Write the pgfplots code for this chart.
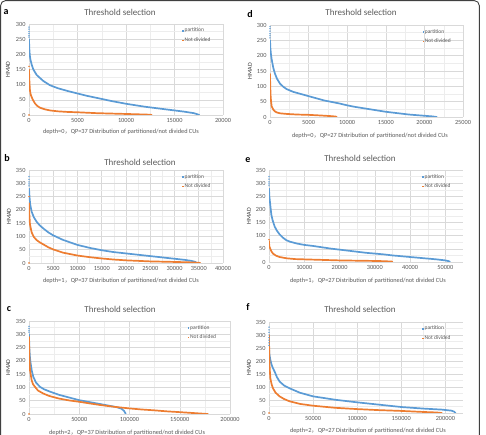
\documentclass[border=0pt]{standalone}
\usepackage{pgfplots}
\pgfplotsset{compat=1.18}
\usepackage{fontspec}
\setmainfont{Carlito}
\newfontfamily\cjk{Noto Sans CJK SC}
\definecolor{pblue}{HTML}{5B9BD5}
\definecolor{porange}{HTML}{ED7D31}
\definecolor{tickc}{HTML}{595959}
\definecolor{titlec}{HTML}{595959}
\definecolor{gridc}{HTML}{D9D9D9}
\definecolor{gridm}{HTML}{EDEDED}
\pgfplotsset{
  every axis title shift=0pt,
  panel/.style={
    scale only axis, anchor=south west, xmin=0, ymin=0,
    axis line style={draw=none}, tick style={draw=none},
    grid=both, minor tick num=1,
    major grid style={draw=gridc, line width=0.5pt},
    minor grid style={draw=gridm, line width=0.35pt},
    ticklabel style={font=\fontsize{6.3}{7}\selectfont, text=tickc},
    /pgf/number format/fixed,
    /pgf/number format/assume math mode=true,
    /pgf/number format/1000 sep={},
    scaled ticks=false,
    title={Threshold selection},
    title style={font=\fontsize{9}{10}\selectfont, text=titlec, anchor=center},
    xlabel style={font=\fontsize{6.3}{7}\selectfont, text=tickc, anchor=center},
    ylabel={HMAD},
    ylabel style={font=\fontsize{6}{7}\selectfont, text=black!80, anchor=center},
    legend style={at={(0.79,0.965)}, anchor=north west, draw=none, fill=none,
      font=\fontsize{5.5}{6}\selectfont, text=tickc, row sep=2.5pt,
      inner sep=0pt, nodes={inner sep=0.8pt}},
    legend cell align=left,
    legend image code/.code={\fill[##1] (0pt,-0.7pt) rectangle (1.4pt,0.7pt);},
  },
  bl/.style={pblue, line width=1.7pt, line join=round, line cap=round},
  ol/.style={porange, line width=1.7pt, line join=round, line cap=round},
  bo/.style={only marks, mark=*, mark size=0.45pt, pblue, mark options={draw=pblue, fill=pblue}},
  oo/.style={only marks, mark=*, mark size=0.5pt, porange, mark options={draw=porange, fill=porange}},
}
\newcommand{\legs}{%
  \addlegendimage{fill=pblue,draw=none}\addlegendentry{partition}
  \addlegendimage{fill=porange,draw=none}\addlegendentry{Not divided}}
\begin{document}
\begin{tikzpicture}[x=1pt,y=1pt]
\useasboundingbox (0,0) rectangle (486,435);
\draw[black!75, line width=0.9pt, rounded corners=5pt] (0.6,-2) -- (0.6,434.4) -- (479.3,434.4) -- (479.3,-2);

% ---------- panel a
\begin{axis}[panel, at={(29pt,320pt)}, width=194pt, height=91pt,
  xmax=20000, ymax=300, xtick={0,5000,...,20000}, ytick={0,50,...,300},
  title style={at={(axis description cs:0.469,1.132)}},
  xlabel={depth=0{\cjk ，}QP=37 Distribution of partitioned/not divided CUs},
  xlabel style={at={(axis description cs:0.474,-0.187)}},
  ylabel style={at={(axis description cs:-0.108,0.5)}}]
\legs
\addplot[bl, forget plot] coordinates {(0,250) (30,220) (80,198) (150,182) (275,166) (450,150) (790,132) (1130,122) (1480,112) (2170,98) (3000,88) (4000,79) (5000,71) (6000,63) (7340,54) (8500,46) (9340,41) (10000,37) (11000,32) (12000,27) (13000,23) (14000,19) (15000,15) (16000,11) (17000,6) (17400,2) (17550,0)};
\addplot[bo, forget plot] coordinates {(0,290) (0,283) (0,275) (0,268) (0,262) (0,257)};
\addplot[ol, forget plot] coordinates {(0,150) (20,130) (50,105) (100,80) (180,67) (275,59) (400,50) (620,38) (850,30) (1140,24) (1600,19) (2170,15) (3000,12) (4000,10) (5000,9) (7000,6) (9340,4) (11000,2.5) (12500,1) (12650,0)};
\addplot[oo, forget plot] coordinates {(0,160) (0,0)};
\end{axis}
\node[font=\bfseries\fontsize{10}{11}\selectfont, anchor=center] at (6,423) {a};

% ---------- panel d
\begin{axis}[panel, at={(270pt,318pt)}, width=193pt, height=92pt,
  xmax=25000, ymax=300, xtick={0,5000,...,25000}, ytick={0,50,...,300},
  title style={at={(axis description cs:0.472,1.141)}},
  xlabel={depth=0{\cjk ，}QP=27 Distribution of partitioned/not divided CUs},
  xlabel style={at={(axis description cs:0.518,-0.207)}},
  ylabel style={at={(axis description cs:-0.104,0.5)}}]
\legs
\addplot[bl, forget plot] coordinates {(0,250) (50,225) (120,205) (215,188) (430,160) (645,141) (900,125) (1290,109) (1700,99) (2150,91) (3000,82) (4000,75) (5000,68) (6000,61) (7000,54) (8000,49) (9000,44) (10000,38) (11000,33) (12000,29) (13000,25) (14000,21) (15000,17) (16000,14) (17000,11) (18000,8) (19000,6) (20000,4) (21000,2) (21600,0)};
\addplot[bo, forget plot] coordinates {(0,295) (0,288) (0,280) (0,272) (0,265) (0,258)};
\addplot[ol, forget plot] coordinates {(0,140) (15,120) (40,95) (80,70) (130,52) (215,35) (430,24) (645,18) (860,15) (1300,12) (2150,10) (3500,8) (5000,7) (6500,5) (7800,3) (8500,1.5) (8650,0)};
\end{axis}
\node[font=\bfseries\fontsize{10}{11}\selectfont, anchor=center] at (250,421) {d};

% ---------- panel b
\begin{axis}[panel, at={(29pt,172pt)}, width=194pt, height=93pt,
  xmax=40000, ymax=350, xtick={0,5000,...,40000}, ytick={0,50,...,350},
  title style={at={(axis description cs:0.572,1.086)}},
  xlabel={depth=1{\cjk ，}QP=37 Distribution of partitioned/not divided CUs},
  xlabel style={at={(axis description cs:0.474,-0.194)}},
  ylabel style={at={(axis description cs:-0.103,0.5)}}]
\legs
\addplot[bl, forget plot] coordinates {(0,280) (100,250) (250,220) (550,193) (1000,172) (1580,155) (2200,142) (2950,130) (4000,115) (5000,104) (7000,87) (10000,68) (12500,57) (15000,48) (17500,41) (20000,36) (22500,31) (25000,26) (27500,21) (30000,16) (32000,12) (33500,8) (34300,4) (34600,0)};
\addplot[bo, forget plot] coordinates {(0,325) (0,315) (0,305) (0,298) (0,290)};
\addplot[ol, forget plot] coordinates {(0,225) (50,190) (200,145) (550,115) (1000,98) (1580,86) (2200,78) (2950,70) (4000,59) (5000,51) (7000,39) (10000,28) (12500,22) (15000,17) (17500,13) (20000,10) (25000,6) (30000,4) (33000,2.5) (35000,1) (35300,0)};
\addplot[oo, forget plot] coordinates {(0,250) (0,0)};
\end{axis}
\node[font=\bfseries\fontsize{10}{11}\selectfont, anchor=center] at (7,277) {b};

% ---------- panel e
\begin{axis}[panel, at={(269pt,173pt)}, width=194pt, height=92pt,
  xmax=55000, ymax=350, xtick={0,10000,...,50000}, ytick={0,50,...,350},
  title style={at={(axis description cs:0.469,1.13)}},
  xlabel={depth=1{\cjk ，}QP=27 Distribution of partitioned/not divided CUs},
  xlabel style={at={(axis description cs:0.51,-0.207)}},
  ylabel style={at={(axis description cs:-0.103,0.5)}}]
\legs
\addplot[bl, forget plot] coordinates {(0,280) (100,250) (375,215) (660,180) (1000,160) (1600,135) (2200,120) (3000,105) (4000,92) (4900,83) (6000,77) (8000,70) (10000,65) (12500,61) (15000,56) (17500,51) (20000,47) (22500,43) (25000,39) (27500,35) (30000,32) (32500,29) (35000,25) (37500,22) (40000,19) (42500,16) (45000,13) (47500,10) (50000,6) (51000,3) (51300,0)};
\addplot[bo, forget plot] coordinates {(0,325) (0,315) (0,305) (0,297) (0,290)};
\addplot[ol, forget plot] coordinates {(0,80) (50,65) (150,57) (375,50) (700,40) (1130,32) (2000,24) (3000,19) (5000,14) (7500,11) (10000,10) (12500,9) (15000,8) (20000,6) (25000,5) (30000,4) (33000,3) (34800,1.5) (35000,0)};
\addplot[oo, forget plot] coordinates {(0,85)};
\end{axis}
\node[font=\bfseries\fontsize{10}{11}\selectfont, anchor=center] at (248,275) {e};

% ---------- panel c
\begin{axis}[panel, at={(29pt,21pt)}, width=201pt, height=93pt,
  xmax=200000, ymax=350, xtick={0,50000,...,200000}, ytick={0,50,...,350},
  title style={at={(axis description cs:0.453,1.129)}},
  xlabel={depth=2{\cjk ，}QP=37 Distribution of partitioned/not divided CUs},
  xlabel style={at={(axis description cs:0.488,-0.204)}},
  ylabel style={at={(axis description cs:-0.104,0.5)}}]
\legs
\addplot[bl, forget plot] coordinates {(0,300) (300,250) (1000,210) (1660,190) (2800,162) (4300,140) (7000,118) (11000,102) (15000,93) (21000,84) (30000,72) (40000,62) (50000,52) (60000,45) (70000,38) (80000,31) (87000,26) (92000,20) (94500,12) (95800,4) (96200,0)};
\addplot[bo, forget plot] coordinates {(0,330) (0,322) (0,315) (0,308)};
\addplot[ol, forget plot] coordinates {(0,290) (300,220) (1000,165) (2650,127) (4000,112) (6000,102) (9000,88) (14300,77) (20000,68) (30000,58) (40000,51) (50000,46) (60000,40) (70600,34) (85000,27) (100000,21) (112000,17) (124000,14) (137000,10) (150000,7) (160000,4.5) (170000,2) (176000,0.5) (178000,0)};
\addplot[oo, forget plot] coordinates {(0,0)};
\end{axis}
\node[font=\bfseries\fontsize{10}{11}\selectfont, anchor=center] at (9,126) {c};

% ---------- panel f
\begin{axis}[panel, at={(269pt,22pt)}, width=194pt, height=91pt,
  xmax=220000, ymax=350, xtick={0,50000,...,200000},
  ytick={0,50,...,350},
  title style={at={(axis description cs:0.469,1.143)}},
  xlabel={depth=2{\cjk ，}QP=27 Distribution of partitioned/not divided CUs},
  xlabel style={at={(axis description cs:0.51,-0.198)}},
  ylabel style={at={(axis description cs:-0.103,0.5)}}]
\legs
\addplot[bl, forget plot] coordinates {(0,250) (500,225) (1500,205) (3000,185) (4500,172) (6400,159) (9000,138) (12000,121) (17000,106) (23300,95) (35000,78) (50000,64) (75000,51) (100000,41) (125000,32) (150000,23) (175000,17) (196000,13) (207000,9) (210000,5) (211500,0)};
\addplot[bo, forget plot] coordinates {(0,330) (0,320) (0,310) (0,300) (0,290) (0,280) (0,270) (0,260)};
\addplot[ol, forget plot] coordinates {(0,300) (300,220) (800,170) (1500,134) (3000,110) (4500,95) (7500,78) (12000,64) (17000,54) (23300,45) (35000,35) (50000,28) (75000,20) (100000,15) (125000,11) (150000,8) (175000,4) (190000,2) (196000,0)};
\addplot[oo, forget plot] coordinates {(0,0)};
\end{axis}
\node[font=\bfseries\fontsize{10}{11}\selectfont, anchor=center] at (248,128) {f};
\end{tikzpicture}
\end{document}
